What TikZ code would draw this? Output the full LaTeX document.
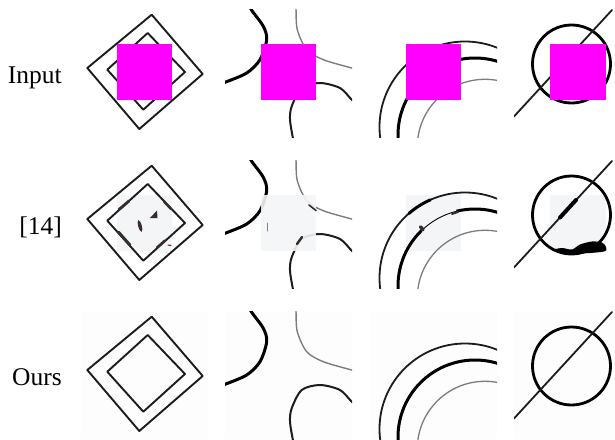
\documentclass[tikz,border=0pt]{standalone}
\usepackage{fontspec}
\setmainfont{Liberation Serif}
\definecolor{mag}{RGB}{255,0,255}
\definecolor{ink}{RGB}{28,28,28}
\definecolor{midgray}{RGB}{125,125,125}
\definecolor{patchgray}{RGB}{244,245,246}
\definecolor{panelbg}{RGB}{253,253,253}
\definecolor{smudge}{RGB}{55,45,45}
\begin{document}
\begin{tikzpicture}[x=1pt,y=-1pt,line join=round,line cap=round]
\tikzset{
  lbl/.style={font=\fontsize{25.5}{30}\selectfont,anchor=base east,inner sep=0pt},
  diaml/.style={draw=ink,line width=1.9},
  thickl/.style={draw=black,line width=3},
  thinl/.style={draw=midgray,line width=1.4},
  medl/.style={draw=ink,line width=2},
  magsq/.style={fill=mag,draw=none},
  patch/.style={fill=patchgray,draw=none},
  blob/.style={fill=smudge,draw=none}
}
\useasboundingbox (0,0) rectangle (615,439);

\newcommand{\lineart}{%
  % panel 1: two rotated squares
  \draw[diaml] (151.7,14.7) -- (202.7,74) -- (139.3,129) -- (87.3,68) -- cycle;
  \draw[diaml] (147.7,33) -- (185,72) -- (143.3,109.7) -- (107.3,69.7) -- cycle;
  % panel 2: three curves
  \begin{scope}
    \clip (225,9.5) rectangle (352,137);
    \draw[thickl] plot[smooth] coordinates {(248,3) (251.7,10.3) (263.3,26.3) (266.7,39.7) (260,59.7) (246.7,73) (225,82.3) (218,84.5)};
    \draw[thinl] plot[smooth] coordinates {(295.5,2) (296,9.5) (297.3,29.7) (306.7,49.7) (323.3,59.7) (351.7,68) (358,69.5)};
    \draw[medl] plot[smooth] coordinates {(358,104) (351.7,99.7) (340,88) (320,83) (301.7,88) (291.7,106.3) (290,119.7) (292.7,137) (294,145)};
  \end{scope}
  % panel 3: three arcs
  \begin{scope}
    \clip (370.5,9.5) rectangle (497,137);
    \draw[ink,line width=1.8] (465,127) circle[radius=85.5];
    \draw[thickl] (475,135) circle[radius=77];
    \draw[midgray,line width=1.3] (485,147) circle[radius=67.7];
  \end{scope}
  % panel 4: circle crossed by a line
  \begin{scope}
    \clip (514,9.5) rectangle (615,137);
    \draw[black,line width=2.8] (571.5,64) circle[radius=39];
    \draw[ink,line width=1.8] (514,116.5) -- (612,10);
  \end{scope}
}

% labels
\node[lbl] (lin) at (62,83.3) {Input};
\node[lbl] (lref) at (62,234.5) {[14]};
\node[lbl] (lours) at (62,385) {Ours};

% ---------- row 1: input with magenta holes ----------
\begin{scope}
  \lineart
  \fill[magsq] (116.7,44.3) rectangle (172,100);
  \fill[magsq] (260.7,44.3) rectangle (316,100);
  \fill[magsq] (405.7,44.3) rectangle (461,100);
  \fill[magsq] (550,44.3) rectangle (606,100);
\end{scope}

% ---------- row 2: result of [14] ----------
\begin{scope}[shift={(0,151)}]
  \fill[patch] (116.7,44.3) rectangle (172,100);
  \fill[patch] (405.7,44.3) rectangle (461,100);
  \fill[patch] (550,44.3) rectangle (606,100);
  \lineart
  \fill[patch,opacity=0.9] (260.7,44.3) rectangle (316,100);
  % panel 1 artefacts
  \draw[smudge,line width=2.8] (119,58.5) -- (129,50);
  \draw[smudge,line width=2.8] (118.5,81) -- (130,94);
  \draw[smudge,line width=2.4] (164,50.5) -- (171,58);
  \draw[smudge,line width=2.4] (157,96.5) -- (165,89.5);
  \draw[red!60!black,line width=1] (168,94) -- (171,94.5);
  \fill[blob,rotate around={15:(140,75)}] (140,75) ellipse[x radius=1.8,y radius=6];
  \fill[blob] (150,67) -- (157,59.5) -- (157.5,67) -- cycle;
  % panel 2 artefacts
  \draw[smudge!60!white,line width=1] (267.5,72) -- (267.5,80);
  \draw[smudge,line width=1.6] (309,54) -- (316,59.5);
  \draw[smudge,line width=2.4] (302,86) -- (297,93);
  % panel 3 artefacts
  \draw[patchgray,line width=4.5,line cap=butt] (475,135) ++(226:77) arc[start angle=226,end angle=256,radius=77];
  \draw[black,line width=0.9] (475,135) ++(226:77) arc[start angle=226,end angle=256,radius=77];
  \fill[blob,rotate around={40:(421.7,77.3)}] (421.7,77.3) ellipse[x radius=2,y radius=3.5];
  \draw[black,line width=3] (465,127) ++(229:85.5) arc[start angle=229,end angle=246,radius=85.5];
  \draw[smudge,line width=2] (452,63) -- (458,61);
  % panel 4 artefacts
  \draw[black,line width=4] (560,66.5) -- (576,49);
  \fill[black] plot[smooth cycle] coordinates {(553,99) (562,97) (572,98.5) (580,93.5) (592,90.5) (602,91.5) (606,96) (604,100.5) (580,102.5) (560,101.5)};
\end{scope}

% ---------- row 3: ours ----------
\begin{scope}[shift={(0,302)}]
  \fill[panelbg] (80.5,9.5) rectangle (207.5,137);
  \fill[panelbg] (225,9.5) rectangle (352,137);
  \fill[panelbg] (370.5,9.5) rectangle (497,137);
  \fill[panelbg] (514,9.5) rectangle (615,137);
  \lineart
\end{scope}
\end{tikzpicture}
\end{document}
